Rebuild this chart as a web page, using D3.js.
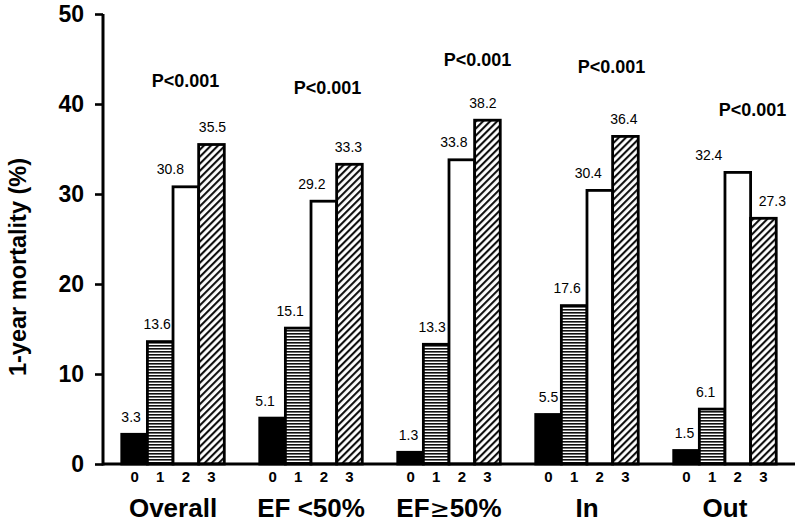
<!DOCTYPE html>
<html>
<head>
<meta charset="utf-8">
<script src="https://cdn.jsdelivr.net/npm/d3@7"></script>
<style>
  body { margin: 0; background: #fff; }
  svg { display: block; font-family: "Liberation Sans", Arial, sans-serif; }
</style>
</head>
<body>
<svg id="chart" width="800" height="526"></svg>
<script>
// ---- data ----
const groups = ["Overall", "EF <50%", "EF\u226550%", "In", "Out"];
const scoreLevels = ["0", "1", "2", "3"];
const score0 = [3.3, 5.1, 1.3, 5.5, 1.5];
const score1 = [13.6, 15.1, 13.3, 17.6, 6.1];
const score2 = [30.8, 29.2, 33.8, 30.4, 32.4];
const score3 = [35.5, 33.3, 38.2, 36.4, 27.3];
const pLabels = ["P<0.001", "P<0.001", "P<0.001", "P<0.001", "P<0.001"];
const yTicks = [0, 10, 20, 30, 40, 50];
const yTitle = "1-year mortality (%)";

// ---- layout tweaks (annotation placement, not data) ----
const pLevel = [41.9, 41.1, 44.2, 43.4, 38.7];      // y-level of P annotations (data units)
const pDx = [-26, -22, -10, -14, -11];               // relative to bar "3" centre
const labelDx = [                                    // value-label nudges per group/bar
  [-3.5, -3, -15.5, 1],
  [-7.5, -8, -12, -1],
  [-2, -4, -8, -4.5],
  [0, -7, -11.5, -1.5],
  [-2, -6.5, -29, 9]
];

const series = [score0, score1, score2, score3];
const rows = groups.map((g, i) => ({ group: g, i, values: series.map(s => s[i]) }));

const svg = d3.select("#chart");

// patterns
const defs = svg.append("defs");
const ph = defs.append("pattern").attr("id", "horiz")
  .attr("patternUnits", "userSpaceOnUse").attr("width", 6).attr("height", 3);
ph.append("rect").attr("width", 6).attr("height", 3).attr("fill", "#fff");
ph.append("rect").attr("y", 0).attr("width", 6).attr("height", 1.6).attr("fill", "#111");

const pd = defs.append("pattern").attr("id", "diag")
  .attr("patternUnits", "userSpaceOnUse").attr("width", 5).attr("height", 5)
  .attr("patternTransform", "rotate(45)");
pd.append("rect").attr("width", 5).attr("height", 5).attr("fill", "#fff");
pd.append("rect").attr("x", 0).attr("width", 2.1).attr("height", 5).attr("fill", "#111");

const fills = ["#000", "url(#horiz)", "#fff", "url(#diag)"];

// scales
const x0 = d3.scaleBand().domain(groups).range([103, 795])
  .paddingInner(0.257).paddingOuter(0.136);
const x1 = d3.scaleBand().domain(scoreLevels).range([0, x0.bandwidth()]).padding(0);
const y = d3.scaleLinear().domain([0, 50]).range([464, 14]);

// bars
const g = svg.append("g");
const grp = g.selectAll("g.grp").data(rows).join("g")
  .attr("class", "grp")
  .attr("transform", d => `translate(${x0(d.group)},0)`);

grp.selectAll("rect").data(d => d.values.map((v, k) => ({ v, k }))).join("rect")
  .attr("x", d => x1(scoreLevels[d.k]))
  .attr("y", d => y(d.v))
  .attr("width", x1.bandwidth())
  .attr("height", d => y(0) - y(d.v))
  .attr("fill", d => fills[d.k])
  .attr("stroke", "#000")
  .attr("stroke-width", 2.8);

// value labels
grp.selectAll("text.val").data(d => d.values.map((v, k) => ({ v, k, gi: d.i }))).join("text")
  .attr("class", "val")
  .attr("x", d => x1(scoreLevels[d.k]) + x1.bandwidth() / 2 + labelDx[d.gi][d.k])
  .attr("y", d => y(d.v) - 12.5)
  .attr("text-anchor", "middle")
  .attr("font-size", 14)
  .attr("fill", "#000")
  .text(d => d.v.toFixed(1));

// score tick labels
grp.selectAll("text.lvl").data(scoreLevels).join("text")
  .attr("class", "lvl")
  .attr("x", d => x1(d) + x1.bandwidth() / 2)
  .attr("y", 482)
  .attr("text-anchor", "middle")
  .attr("font-size", 15)
  .attr("font-weight", "bold")
  .text(d => d);

// group labels
const gl = grp.append("text")
  .attr("x", x0.bandwidth() / 2)
  .attr("y", 517)
  .attr("text-anchor", "middle")
  .attr("font-size", 26)
  .attr("font-weight", "bold");
gl.each(function(d) {
  const t = d3.select(this);
  if (d.group.includes("\u2265")) {
    const parts = d.group.split("\u2265");
    t.append("tspan").text(parts[0]);
    t.append("tspan").attr("font-weight", "normal").attr("font-family", "DejaVu Sans, sans-serif")
      .attr("font-size", 24).text("\u2265");
    t.append("tspan").text(parts[1]);
  } else {
    t.text(d.group);
  }
});

// P annotations
grp.append("text")
  .attr("x", d => x1("3") + x1.bandwidth() / 2 + pDx[d.i])
  .attr("y", d => y(pLevel[d.i]))
  .attr("text-anchor", "middle")
  .attr("font-size", 18)
  .attr("font-weight", "bold")
  .text(d => pLabels[d.i]);

// axes
const yAxis = d3.axisLeft(y).tickValues(yTicks).tickSize(8).tickPadding(11);
const ya = svg.append("g").attr("transform", "translate(103,0)").call(yAxis);
ya.select(".domain").remove();
ya.selectAll(".tick line").attr("stroke", "#000").attr("stroke-width", 2.6);
ya.selectAll(".tick text").attr("font-size", 23).attr("font-weight", "bold")
  .attr("font-family", "Liberation Sans, Arial, sans-serif").attr("fill", "#000");

svg.append("line").attr("x1", 103).attr("x2", 103).attr("y1", y(50)).attr("y2", y(0) + 1.5)
  .attr("stroke", "#000").attr("stroke-width", 3);
svg.append("line").attr("x1", 103).attr("x2", 795).attr("y1", y(0)).attr("y2", y(0))
  .attr("stroke", "#000").attr("stroke-width", 3);

// y title
svg.append("text")
  .attr("transform", `translate(26,${(157 + 377) / 2}) rotate(-90)`)
  .attr("text-anchor", "middle")
  .attr("font-size", 23.5)
  .attr("font-weight", "bold")
  .text(yTitle);
</script>
</body>
</html>
